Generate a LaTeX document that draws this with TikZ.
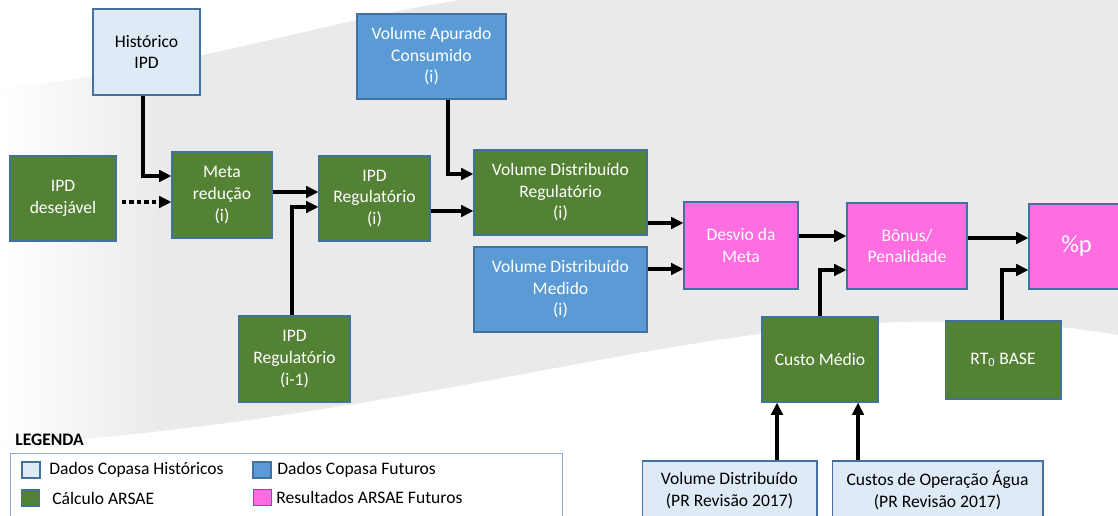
\documentclass[tikz,border=0pt]{standalone}
\usepackage{fontspec}
\setmainfont{Carlito}
\usetikzlibrary{arrows.meta}
\definecolor{histblue}{HTML}{DEEBF7}
\definecolor{futblue}{HTML}{5B9BD5}
\definecolor{calcgreen}{HTML}{548235}
\definecolor{respink}{HTML}{FF6EE0}
\definecolor{edgeblue}{HTML}{41719C}
\definecolor{legedge}{HTML}{8FAACC}
\definecolor{bggray}{HTML}{EAEAEA}

\begin{document}
\begin{tikzpicture}[
  x=0.02cm, y=-0.02cm,
  font=\fontsize{10}{12.3}\selectfont,
  box/.style={draw=edgeblue, line width=0.6pt, align=center, inner sep=2pt},
  histbox/.style={box, fill=histblue, text=black},
  futbox/.style={box, fill=futblue, text=white},
  calcbox/.style={box, fill=calcgreen, text=white},
  resbox/.style={box, fill=respink, text=white},
  key/.style={draw=edgeblue, line width=0.6pt, minimum width=0.36cm, minimum height=0.32cm, inner sep=0pt},
  keytext/.style={anchor=west, inner sep=0pt},
  arrow/.style={-{Triangle[length=7pt,width=6.5pt]}, line width=1.8pt},
  dotarrow/.style={arrow, dash pattern=on 2.5pt off 1.8pt}
]
\useasboundingbox (0,0) rectangle (1118,516);
\clip (0,0) rectangle (1118,516);
\fill[white] (0,0) rectangle (1118,516);
\begin{scope}
  \clip (460,0) -- (1118,0) -- (1118,335) .. controls (1060,325) and (1000,320) .. (900,322)
    .. controls (650,330) and (400,420) .. (0,445) -- (0,90) .. controls (200,65) and (330,20) .. (460,0) -- cycle;
  \fill[bggray] (0,0) rectangle (1118,516);
  \shade[left color=white, right color=bggray] (0,0) rectangle (160,516);
\end{scope}

\node[histbox, minimum width=2.14cm, minimum height=1.72cm] (hist)   at (146.5,52)  {Histórico\\IPD};
\node[calcbox, minimum width=2.12cm, minimum height=1.70cm] (desej)  at (63,198.5)  {IPD\\desejável};
\node[calcbox, minimum width=2.00cm, minimum height=1.72cm] (meta)   at (222,195)   {Meta\\redução\\(i)};
\node[calcbox, minimum width=2.22cm, minimum height=1.70cm] (ipdreg) at (374.5,198.5) {IPD\\Regulatório\\(i)};
\node[calcbox, minimum width=2.22cm, minimum height=1.72cm] (ipdant) at (294.5,359) {IPD\\Regulatório\\(i-1)};
\node[futbox,  minimum width=2.98cm, minimum height=1.70cm] (vac)    at (431.5,56.5) {Volume Apurado\\Consumido\\(i)};
\node[calcbox, minimum width=3.46cm, minimum height=1.70cm] (vdr)    at (560.5,192.5) {Volume Distribuído\\Regulatório\\(i)};
\node[futbox,  minimum width=3.46cm, minimum height=1.70cm] (vdm)    at (560.5,289.5) {Volume Distribuído\\Medido\\(i)};
\node[resbox,  minimum width=2.28cm, minimum height=1.74cm] (desvio) at (741,245.5) {Desvio da\\Meta};
\node[resbox,  minimum width=2.40cm, minimum height=1.72cm] (bonus)  at (907,246)   {Bônus/\\Penalidade};
\node[resbox,  minimum width=1.90cm, minimum height=1.70cm, font=\fontsize{14}{16}\selectfont] (pct) at (1076.5,246.5) {\%p};
\node[calcbox, minimum width=2.32cm, minimum height=1.70cm] (custo)  at (820,359.5) {Custo Médio};
\node[calcbox, minimum width=2.32cm, minimum height=1.56cm] (rtbase) at (1003,360)  {RT\textsubscript{0} BASE};
\node[histbox, minimum width=3.50cm, minimum height=1.18cm] (vdpr)   at (729.5,490.5) {Volume Distribuído\\(PR Revisão 2017)};
\node[histbox, minimum width=4.22cm, minimum height=1.18cm] (custop) at (937.5,490.5) {Custos de Operação Água\\(PR Revisão 2017)};

\draw[arrow] ([xshift=-0.07cm]hist.south) |- ([yshift=0.38cm]meta.west);
\draw[dotarrow] ([xshift=3pt,yshift=-0.07cm]desej.east) -- ([yshift=-0.07cm]desej.east -| meta.west);
\draw[arrow] ([yshift=0.06cm]meta.east) -- ([yshift=0.06cm]meta.east -| ipdreg.west);
\draw[arrow] ([xshift=-0.05cm]ipdant.north) |- ([yshift=-0.17cm]ipdreg.west);
\draw[arrow] ([xshift=0.33cm]vac.south) |- ([yshift=0.37cm]vdr.west);
\draw[arrow] ([yshift=-0.25cm]ipdreg.east) -- ([yshift=-0.25cm]ipdreg.east -| vdr.west);
\draw[arrow] ([yshift=-0.61cm]vdr.east) -- ([yshift=-0.61cm]vdr.east -| desvio.west);
\draw[arrow] ([yshift=0.41cm]vdm.east) -- ([yshift=0.41cm]vdm.east -| desvio.west);
\draw[arrow] ([yshift=0.19cm]desvio.east) -- ([yshift=0.19cm]desvio.east -| bonus.west);
\draw[arrow] ([yshift=0.16cm]bonus.east) -- ([yshift=0.16cm]bonus.east -| pct.west);
\draw[arrow] (custo.north) |- ([yshift=-0.48cm]bonus.west);
\draw[arrow] ([xshift=-0.02cm]rtbase.north) |- ([yshift=-0.47cm]pct.west);
\draw[arrow] ([xshift=0.95cm]vdpr.north) -- ([xshift=0.95cm]vdpr.north |- custo.south);
\draw[arrow] ([xshift=-1.59cm]custop.north) -- ([xshift=-1.59cm]custop.north |- custo.south);

\node[keytext, font=\bfseries\fontsize{10}{12}\selectfont] (legtitle) at (15,440) {LEGENDA};
\node[draw=legedge, fill=white, line width=0.8pt, anchor=north west, minimum width=11.04cm, minimum height=1.6cm] (legbox) at (10,453) {};
\node[key, fill=histblue]  (k1) at (31,470)     {};
\node[keytext]             (t1) at (49,470)     {Dados Copasa Históricos};
\node[key, fill=calcgreen] (k2) at (30.5,498)   {};
\node[keytext]             (t2) at (52,498)     {Cálculo ARSAE};
\node[key, fill=futblue]   (k3) at (262,470)    {};
\node[keytext]             (t3) at (277,470)    {Dados Copasa Futuros};
\node[key, fill=respink]   (k4) at (262.5,497.5) {};
\node[keytext]             (t4) at (276,497.5)  {Resultados ARSAE Futuros};
\end{tikzpicture}
\end{document}
